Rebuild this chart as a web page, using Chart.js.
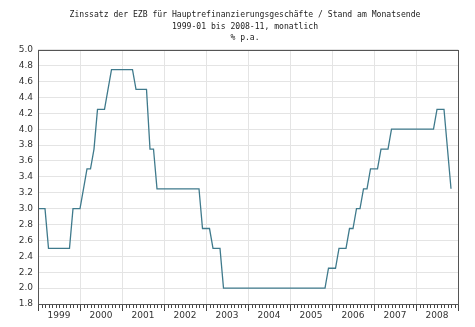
<!DOCTYPE html>
<html>
<head>
<meta charset="utf-8">
<script src="https://cdn.jsdelivr.net/npm/chart.js@4/dist/chart.umd.min.js"></script>
<style>
  html, body { margin: 0; padding: 0; background: #fff; }
  #wrap { width: 475px; height: 327px; }
</style>
</head>
<body>
<div id="wrap"><canvas id="rateChart" width="475" height="327"></canvas></div>
<script>
const titleLines = [
	"Zinssatz der EZB für Hauptrefinanzierungsgeschäfte / Stand am Monatsende",
	"1999-01 bis 2008-11, monatlich",
	"% p.a."
];

const years = [1999, 2000, 2001, 2002, 2003, 2004, 2005, 2006, 2007, 2008];

// end-of-month rate, one row per year, Jan..Dec
const rates1999 = [3.0, 3.0, 3.0, 2.5, 2.5, 2.5, 2.5, 2.5, 2.5, 2.5, 3.0, 3.0];
const rates2000 = [3.0, 3.25, 3.5, 3.5, 3.75, 4.25, 4.25, 4.25, 4.5, 4.75, 4.75, 4.75];
const rates2001 = [4.75, 4.75, 4.75, 4.75, 4.5, 4.5, 4.5, 4.5, 3.75, 3.75, 3.25, 3.25];
const rates2002 = [3.25, 3.25, 3.25, 3.25, 3.25, 3.25, 3.25, 3.25, 3.25, 3.25, 3.25, 2.75];
const rates2003 = [2.75, 2.75, 2.5, 2.5, 2.5, 2.0, 2.0, 2.0, 2.0, 2.0, 2.0, 2.0];
const rates2004 = [2.0, 2.0, 2.0, 2.0, 2.0, 2.0, 2.0, 2.0, 2.0, 2.0, 2.0, 2.0];
const rates2005 = [2.0, 2.0, 2.0, 2.0, 2.0, 2.0, 2.0, 2.0, 2.0, 2.0, 2.0, 2.25];
const rates2006 = [2.25, 2.25, 2.5, 2.5, 2.5, 2.75, 2.75, 3.0, 3.0, 3.25, 3.25, 3.5];
const rates2007 = [3.5, 3.5, 3.75, 3.75, 3.75, 4.0, 4.0, 4.0, 4.0, 4.0, 4.0, 4.0];
const rates2008 = [4.0, 4.0, 4.0, 4.0, 4.0, 4.0, 4.25, 4.25, 4.25, 3.75, 3.25];

const yMin = 1.8, yMax = 5.0, yStep = 0.2;

const rates = [].concat(rates1999, rates2000, rates2001, rates2002, rates2003,
	rates2004, rates2005, rates2006, rates2007, rates2008);
const points = rates.map((r, i) => ({ x: i, y: r }));
const monthCount = years.length * 12;

const frameAndMonths = {
	id: "frameAndMonths",
	afterDraw(chart){
		const { ctx, chartArea: a, scales: { x } } = chart;
		ctx.save();
		ctx.strokeStyle = "#444";
		ctx.lineWidth = 1;
		ctx.beginPath();
		for(let m = 0; m <= monthCount; m++){
			const px = Math.round(x.getPixelForValue(m)) + 0.5;
			ctx.moveTo(px, a.bottom);
			ctx.lineTo(px, a.bottom + (m % 12 == 0 ? 7 : 4));
		}
		ctx.stroke();
		ctx.strokeStyle = "#555";
		ctx.strokeRect(Math.round(a.left) + 0.5, Math.round(a.top) + 0.5,
			Math.round(a.width), Math.round(a.height));
		ctx.restore();
	}
};

const ctx = document.getElementById("rateChart").getContext("2d");
new Chart(ctx, {
	type: "line",
	data: {
		datasets: [{
			data: points,
			borderColor: "#3f7a8c",
			borderWidth: 1.3,
			pointRadius: 0,
			tension: 0,
			fill: false
		}]
	},
	options: {
		responsive: false,
		animation: false,
		layout: { padding: { top: 0, right: 0, bottom: 0, left: 15 } },
		plugins: {
			legend: { display: false },
			tooltip: { enabled: false },
			title: {
				display: true,
				text: titleLines,
				color: "#222",
				font: { family: "'DejaVu Sans Mono'", size: 8.1, weight: "normal", lineHeight: 1.45 },
				padding: { top: 9, bottom: 5.5 }
			}
		},
		scales: {
			x: {
				type: "linear",
				min: 0,
				max: monthCount,
				afterBuildTicks: axis => {
					const t = [];
					for(let v = 0; v <= monthCount; v += 6) t.push({ value: v });
					axis.ticks = t;
				},
				afterFit: axis => { axis.height = 23; },
				border: { display: false },
				grid: {
					drawTicks: false,
					color: c => (c.tick && c.tick.value % 12 == 0) ? "#e4e4e4" : "rgba(0,0,0,0)"
				},
				ticks: {
					autoSkip: false,
					maxRotation: 0,
					padding: 6,
					color: "#333",
					font: { family: "'DejaVu Sans'", size: 9 },
					callback: v => (v % 12 == 6) ? String(years[(v - 6) / 12]) : ""
				}
			},
			y: {
				min: yMin,
				max: yMax,
				afterFit: axis => { axis.width = 23; },
				border: { display: false },
				grid: { drawTicks: false, color: "#e4e4e4" },
				ticks: {
					stepSize: yStep,
					padding: 5,
					color: "#333",
					font: { family: "'DejaVu Sans'", size: 9 },
					callback: v => v.toFixed(1)
				}
			},
			yRight: {
				position: "right",
				min: yMin,
				max: yMax,
				afterFit: axis => { axis.width = 17; },
				border: { display: false },
				grid: { display: false, drawTicks: false },
				ticks: { display: false }
			}
		}
	},
	plugins: [frameAndMonths]
});
</script>
</body>
</html>
